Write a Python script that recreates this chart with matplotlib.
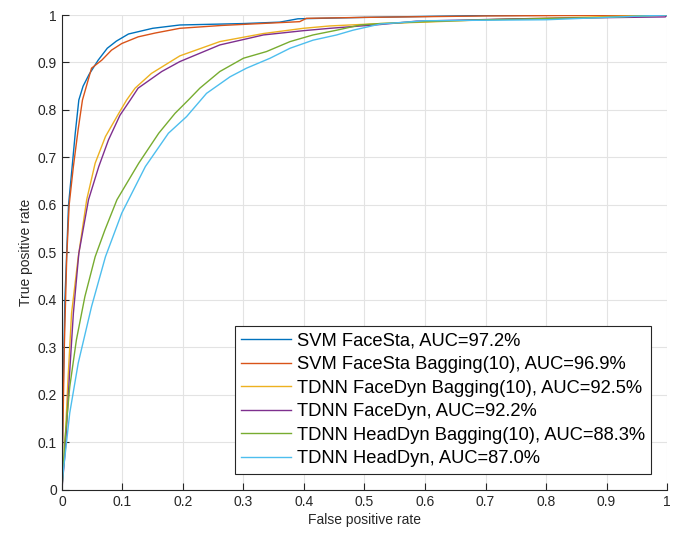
import matplotlib
matplotlib.use('Agg')
import matplotlib.pyplot as plt

plt.rcParams['font.family'] = ['Liberation Sans', 'DejaVu Sans']

# ROC curves: (false positive rate, true positive rate)
svm_fpr = [0, 0.002, 0.005, 0.011, 0.017, 0.022, 0.028, 0.035, 0.045, 0.06, 0.075, 0.09, 0.11, 0.15, 0.195, 0.3, 0.36, 0.39, 0.5, 0.6, 0.7, 1.0]
svm_tpr = [0, 0.2, 0.4, 0.6, 0.681, 0.75, 0.821, 0.85, 0.875, 0.905, 0.93, 0.945, 0.96, 0.972, 0.979, 0.982, 0.985, 0.992, 0.995, 0.997, 0.999, 1.0]

svmbag_fpr = [0, 0.002, 0.004, 0.008, 0.012, 0.019, 0.027, 0.034, 0.049, 0.066, 0.082, 0.099, 0.126, 0.154, 0.195, 0.264, 0.393, 0.404, 0.5, 0.7, 1.0]
svmbag_tpr = [0, 0.15, 0.3, 0.49, 0.6, 0.681, 0.76, 0.821, 0.888, 0.905, 0.926, 0.94, 0.954, 0.962, 0.972, 0.978, 0.986, 0.993, 0.995, 0.998, 1.0]

facebag_fpr = [0, 0.005, 0.01, 0.016, 0.027, 0.041, 0.055, 0.072, 0.094, 0.107, 0.121, 0.148, 0.195, 0.261, 0.333, 0.399, 0.443, 0.526, 0.6, 0.7, 1.0]
facebag_tpr = [0, 0.09, 0.23, 0.372, 0.49, 0.611, 0.688, 0.744, 0.793, 0.821, 0.846, 0.877, 0.914, 0.944, 0.961, 0.972, 0.977, 0.982, 0.985, 0.99, 1.0]

face_fpr = [0, 0.006, 0.012, 0.019, 0.028, 0.044, 0.061, 0.077, 0.096, 0.113, 0.126, 0.165, 0.195, 0.261, 0.333, 0.399, 0.443, 0.526, 0.586, 0.75, 0.997, 1.0]
face_tpr = [0, 0.09, 0.23, 0.372, 0.498, 0.611, 0.681, 0.737, 0.789, 0.821, 0.846, 0.881, 0.902, 0.937, 0.958, 0.967, 0.972, 0.98, 0.987, 0.992, 0.996, 1.0]

headbag_fpr = [0, 0.005, 0.013, 0.024, 0.038, 0.055, 0.071, 0.091, 0.127, 0.16, 0.187, 0.209, 0.228, 0.261, 0.3, 0.338, 0.377, 0.415, 0.454, 0.493, 0.526, 0.6, 0.7, 0.9, 1.0]
headbag_tpr = [0, 0.105, 0.217, 0.316, 0.407, 0.491, 0.547, 0.611, 0.688, 0.751, 0.793, 0.821, 0.846, 0.881, 0.909, 0.923, 0.944, 0.958, 0.968, 0.979, 0.982, 0.986, 0.99, 0.995, 1.0]

head_fpr = [0, 0.002, 0.013, 0.027, 0.049, 0.072, 0.099, 0.138, 0.176, 0.206, 0.239, 0.278, 0.305, 0.344, 0.377, 0.415, 0.454, 0.481, 0.526, 0.6, 0.8, 1.0]
head_tpr = [0, 0.035, 0.162, 0.267, 0.386, 0.491, 0.583, 0.681, 0.751, 0.786, 0.835, 0.87, 0.888, 0.909, 0.93, 0.947, 0.958, 0.968, 0.981, 0.988, 0.99, 1.0]

labels = ['SVM FaceSta, AUC=97.2%',
          'SVM FaceSta Bagging(10), AUC=96.9%',
          'TDNN FaceDyn Bagging(10), AUC=92.5%',
          'TDNN FaceDyn, AUC=92.2%',
          'TDNN HeadDyn Bagging(10), AUC=88.3%',
          'TDNN HeadDyn, AUC=87.0%']
colors = ['#0072BD', '#D95319', '#EDB120', '#7E2F8E', '#77AC30', '#4DBEEE']

curves = [(svm_fpr, svm_tpr), (svmbag_fpr, svmbag_tpr), (facebag_fpr, facebag_tpr),
          (face_fpr, face_tpr), (headbag_fpr, headbag_tpr), (head_fpr, head_tpr)]

fig = plt.figure(figsize=(6.8, 5.36), dpi=100)
ax = fig.add_axes([0.091, 0.086, 0.890, 0.886])

for (x, y), lab, c in zip(curves, labels, colors):
    ax.plot(x, y, color=c, linewidth=1.0, label=lab)

ax.set_xlim(0, 1)
ax.set_ylim(0, 1)
ticks = [i / 10 for i in range(11)]
ticklabels = ['0'] + ['%.1f' % t for t in ticks[1:-1]] + ['1']
ax.set_xticks(ticks)
ax.set_xticklabels(ticklabels)
ax.set_yticks(ticks)
ax.set_yticklabels(ticklabels)
ax.tick_params(direction='in', length=5, width=0.8, labelsize=10, colors='#262626')
ax.grid(True, color='#e3e3e3', linewidth=0.8)
ax.set_axisbelow(True)
ax.spines['top'].set_visible(False)
ax.spines['right'].set_visible(False)
ax.spines['left'].set_color('#262626')
ax.spines['bottom'].set_color('#262626')

ax.set_xlabel('False positive rate', fontsize=10, color='#262626', labelpad=3)
ax.set_ylabel('True positive rate', fontsize=10, color='#262626', labelpad=3)

leg = ax.legend(loc='lower right', bbox_to_anchor=(0.974, 0.034), borderaxespad=0,
                fontsize=13.2, fancybox=False, framealpha=1, handlelength=2.7,
                handletextpad=0.33, labelspacing=0.36, borderpad=0.35)
leg.get_frame().set_edgecolor('#262626')
leg.get_frame().set_linewidth(0.8)

fig.savefig('out.png', dpi=100)
